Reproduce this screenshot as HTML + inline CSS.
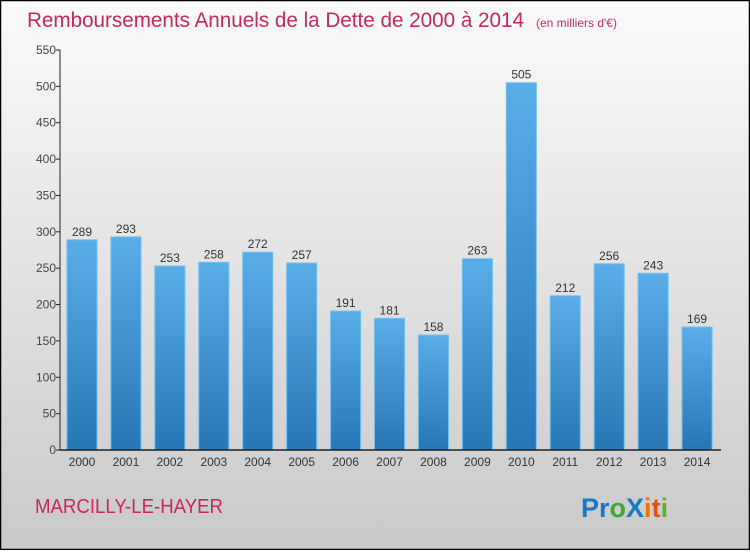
<!DOCTYPE html>
<html><head><meta charset="utf-8">
<style>
html,body{margin:0;padding:0;}
body{width:750px;height:550px;overflow:hidden;font-family:"Liberation Sans",sans-serif;}
</style></head>
<body>
<svg id="chart" width="750" height="550" xmlns="http://www.w3.org/2000/svg">
<defs>
<linearGradient id="bg" x1="0" y1="0" x2="0" y2="1"><stop offset="0" stop-color="#fbfbfb"/><stop offset="1" stop-color="#c9c9c9"/></linearGradient>
<linearGradient id="bar" x1="0" y1="0" x2="0" y2="1"><stop offset="0" stop-color="#5aaee8"/><stop offset="1" stop-color="#2776b5"/></linearGradient>
</defs>
<rect x="0.5" y="0.5" width="749" height="549" fill="url(#bg)" stroke="#000" stroke-width="1.5"/>
<text x="27" y="27" font-size="21" fill="#c8285a" textLength="497" lengthAdjust="spacingAndGlyphs">Remboursements Annuels de la Dette de 2000 à 2014</text>
<text x="536" y="27" font-size="12" fill="#c8285a">(en milliers d'€)</text>
<g id="yaxis"></g>
<g id="bars"></g>
<g id="xaxis"></g>
<text x="35" y="513" font-size="20" fill="#c8285a" textLength="188" lengthAdjust="spacingAndGlyphs">MARCILLY-LE-HAYER</text>
<g font-size="27" font-weight="bold" font-family="'Liberation Sans',sans-serif">
<text x="581" y="517"><tspan fill="#1a78c8">Pr</tspan><tspan fill="#3aa83a">o</tspan><tspan fill="#1a78c8">X</tspan><tspan fill="#f07010">i</tspan><tspan fill="#e05010">t</tspan><tspan fill="#60b030">i</tspan></text>
</g>
</svg>
<script>
const categories=["2000","2001","2002","2003","2004","2005","2006","2007","2008","2009","2010","2011","2012","2013","2014"];
const values=[289,293,253,258,272,257,191,181,158,263,505,212,256,243,169];
const yTicks=[0,50,100,150,200,250,300,350,400,450,500,550];
const NS="http://www.w3.org/2000/svg";
const x0=60,x1=721,yBase=450,yTop=50,yMax=550;
function y(v){return yBase-(v/yMax)*(yBase-yTop);}
function xc(i){return 82+i*((x1-x0-2)/categories.length);}
function mk(tag,attrs,parent){const e=document.createElementNS(NS,tag);for(const k in attrs)e.setAttribute(k,attrs[k]);parent.appendChild(e);return e;}
const ya=document.getElementById('yaxis'),ba=document.getElementById('bars'),xa=document.getElementById('xaxis');
let l=mk('line',{x1:x0,y1:yTop,x2:x0,y2:yBase,stroke:'#222','stroke-width':1},ya);


yTicks.forEach(t=>{
  const tk=mk('line',{x1:x0-4,y1:y(t),x2:x0,y2:y(t),stroke:'#222'},ya);
  
  
  const tx=mk('text',{x:x0-4,y:y(t)+4,'font-size':12,fill:'#444','text-anchor':'end'},ya);
  tx.textContent=t;
  
  
});
const bw=30;
values.forEach((v,i)=>{
  const c=xc(i);
  const r=mk('rect',{x:c-bw/2,y:y(v),width:bw,height:yBase-y(v),fill:'url(#bar)',stroke:'#6fbdf0','stroke-width':1},ba);
  
  
  const t=mk('text',{x:c,y:y(v)-4,'font-size':12,fill:'#333','text-anchor':'middle'},ba);
  t.textContent=v;
  
  
  const xl=mk('text',{x:c,y:466,'font-size':12,fill:'#333','text-anchor':'middle'},xa);
  xl.textContent=categories[i];
  
  
});
l=mk('line',{x1:x0,y1:yBase,x2:x1,y2:yBase,stroke:'#222','stroke-width':1.5},xa);


</script>
</body></html>
